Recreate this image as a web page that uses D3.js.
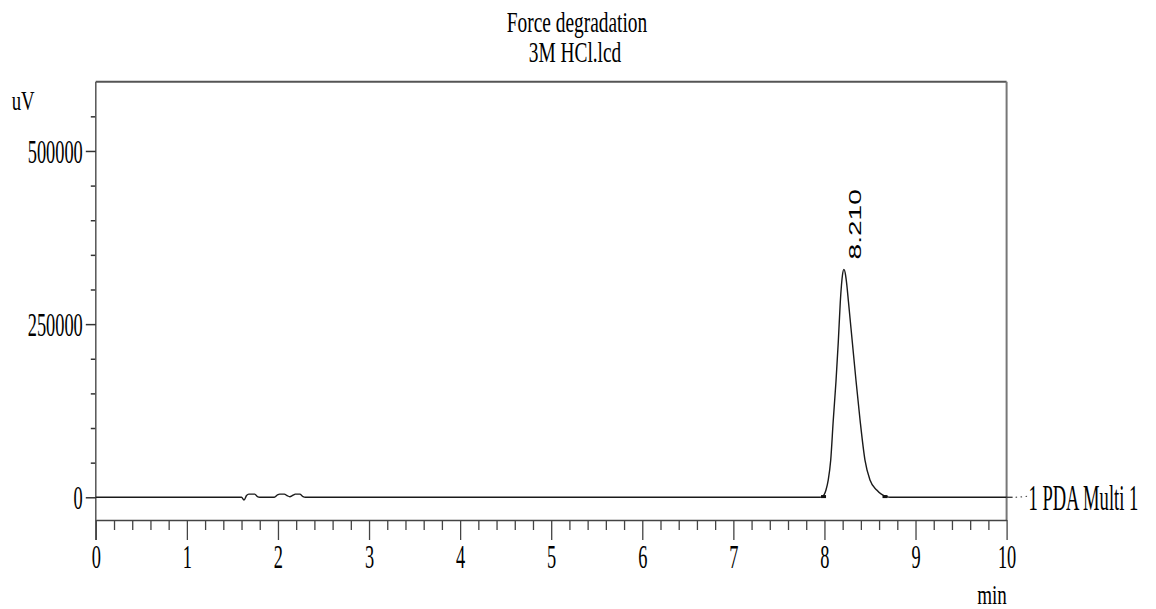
<!DOCTYPE html>
<html>
<head>
<meta charset="utf-8">
<script src="https://cdn.jsdelivr.net/npm/d3@7/dist/d3.min.js"></script>
<style>
  html, body { margin: 0; padding: 0; background: #fff; }
  svg { display: block; }
</style>
</head>
<body>
<svg id="chart" width="1156" height="609"></svg>
<script>
// ---------------- DATA ----------------
const titleLines = ["Force degradation", "3M HCl.lcd"];
const yAxisLabel = "uV";
const xAxisLabel = "min";
const seriesLabel = "1 PDA Multi 1";
const peakLabel = "8.210";
const peakApexTime = 8.214;
const peakApexValue = 329000;
const peakStartTime = 7.99;
const peakEndTime = 8.665;

const xMajorTicks = [0, 1, 2, 3, 4, 5, 6, 7, 8, 9, 10];
const yMajorTicks = [0, 250000, 500000];
const yMinorTicks = [50000, 100000, 150000, 200000, 300000, 350000, 400000, 450000, 550000];

const traceTime = [
  0, 1.60, 1.627, 1.655, 1.68, 1.745, 1.775, 1.80,
  1.96, 1.995, 2.02, 2.07, 2.10, 2.13, 2.165, 2.19, 2.24, 2.275, 2.30,
  7.95, 7.976, 8.017, 8.042, 8.069, 8.097, 8.127, 8.152, 8.174, 8.187, 8.198, 8.214,
  8.232, 8.246, 8.264, 8.306, 8.347, 8.391, 8.445, 8.500, 8.574, 8.684, 8.72, 10
];
const traceValue = [
  0, 0, -4000, 2500, 4500, 4500, 1000, 0,
  0, 3500, 4500, 4500, 2500, 800, 3000, 4500, 4500, 1000, 0,
  0, 900, 10500, 25000, 53800, 111600, 167900, 224200, 281900, 306400, 320900, 329000,
  320900, 306400, 281900, 224200, 167900, 111600, 53800, 25000, 10500, 900, 0, 0
];

// ---------------- LAYOUT ----------------
(function () {
const svg = d3.select("#chart");
const pLeft = 95.8, pRight = 1006.6, pTop = 81.7, pBottom = 520;
const x = d3.scaleLinear().domain([0, 10]).range([pLeft, pRight]);
const y = d3.scaleLinear().domain([-32800, 600000]).range([pBottom, pTop]);

const serif = "'Liberation Serif', 'Times New Roman', serif";
const sans = "'Liberation Sans', Arial, sans-serif";

function stext(sel, str, tx, ty, size, sx, anchor, fam) {
  return sel.append("text")
    .attr("transform", `translate(${tx},${ty}) scale(${sx},1)`)
    .attr("text-anchor", anchor)
    .style("font-family", fam)
    .style("font-size", size + "px")
    .attr("fill", "#000")
    .text(str);
}

// Title
stext(svg, titleLines[0], 577, 31.7, 28.5, 0.68, "middle", serif);
stext(svg, titleLines[1], 575, 61.7, 28.5, 0.68, "middle", serif);

// Frame (top & right)
svg.append("line").attr("x1", pLeft).attr("x2", pRight).attr("y1", pTop).attr("y2", pTop)
  .attr("stroke", "#555").attr("stroke-width", 2);
svg.append("line").attr("x1", pRight).attr("x2", pRight).attr("y1", pTop).attr("y2", pBottom)
  .attr("stroke", "#777").attr("stroke-width", 2);

// Y axis minor
svg.append("g").attr("transform", `translate(${pLeft},0)`)
  .call(d3.axisLeft(y).tickValues(yMinorTicks).tickSize(5).tickFormat(""))
  .call(g => g.select(".domain").remove())
  .call(g => g.selectAll("line").attr("stroke", "#333").attr("stroke-width", 1.5));

// Y axis major
const yAx = svg.append("g").attr("transform", `translate(${pLeft},0)`)
  .call(d3.axisLeft(y).tickValues(yMajorTicks).tickSize(10).tickSizeOuter(0).tickFormat(d3.format("d")));
yAx.select(".domain").attr("stroke", "#555").attr("stroke-width", 1.5)
  .attr("d", `M0,${pTop}V${pBottom + 20}`);
yAx.selectAll("line").attr("stroke", "#333").attr("stroke-width", 1.5);
yAx.selectAll("text")
  .attr("x", null).attr("dy", null)
  .attr("transform", "translate(-13,11.5) scale(0.54,1)")
  .attr("text-anchor", "end")
  .attr("fill", "#000")
  .style("font-family", serif).style("font-size", "34px");

// X axis minor
const xMinor = d3.range(0, 10.001, 0.2).filter(v => Math.abs(v - Math.round(v)) > 1e-6);
svg.append("g").attr("transform", `translate(0,${pBottom})`)
  .call(d3.axisBottom(x).tickValues(xMinor).tickSize(10).tickFormat(""))
  .call(g => g.select(".domain").remove())
  .call(g => g.selectAll("line").attr("stroke", "#444").attr("stroke-width", 1.3));

// X axis major
const xAx = svg.append("g").attr("transform", `translate(0,${pBottom})`)
  .call(d3.axisBottom(x).tickValues(xMajorTicks).tickSize(20).tickSizeOuter(0).tickFormat(d3.format("d")));
xAx.select(".domain").attr("stroke", "#444").attr("stroke-width", 1.6);
xAx.selectAll("line").attr("stroke", "#444").attr("stroke-width", 1.3);
xAx.selectAll("text")
  .attr("y", null).attr("dy", null)
  .attr("transform", "translate(0,48) scale(0.54,1)")
  .attr("fill", "#000")
  .style("font-family", serif).style("font-size", "34px");

// Axis labels
stext(svg, yAxisLabel, 11.7, 110, 28, 0.67, "start", serif);
stext(svg, xAxisLabel, 992, 604, 28, 0.68, "middle", serif);

// Trace
const pts = traceTime.map((t, i) => [t, traceValue[i]]);
const line = d3.line().x(d => x(d[0])).y(d => y(d[1])).curve(d3.curveMonotoneX);
svg.append("path").datum(pts).attr("d", line)
  .attr("fill", "none").attr("stroke", "#1a1a1a").attr("stroke-width", 1.4)
  .attr("stroke-linejoin", "round");

// Peak start/end markers
[peakStartTime, peakEndTime].forEach(t => {
  svg.append("rect").attr("x", x(t) - 2.5).attr("y", y(0) - 2.2).attr("width", 5).attr("height", 3)
    .attr("fill", "#111");
});

// Leader to series label
svg.append("line").attr("x1", pRight).attr("x2", pRight + 6).attr("y1", y(0)).attr("y2", y(0))
  .attr("stroke", "#333").attr("stroke-width", 1.3);
svg.append("line").attr("x1", pRight + 9).attr("x2", pRight + 22).attr("y1", y(0)).attr("y2", y(0) - 1)
  .attr("stroke", "#555").attr("stroke-width", 1.2).attr("stroke-dasharray", "1.5,3.5");
stext(svg, seriesLabel, 1028.5, 510.3, 35, 0.53, "start", serif);

// Peak label (rotated)
svg.append("text")
  .attr("transform", `translate(${x(peakApexTime) + 17.5},${y(peakApexValue) - 10}) rotate(-90) scale(1.72,1)`)
  .attr("text-anchor", "start")
  .style("font-family", sans).style("font-size", "16.3px")
  .attr("fill", "#000")
  .text(peakLabel);
})();
</script>
</body>
</html>
